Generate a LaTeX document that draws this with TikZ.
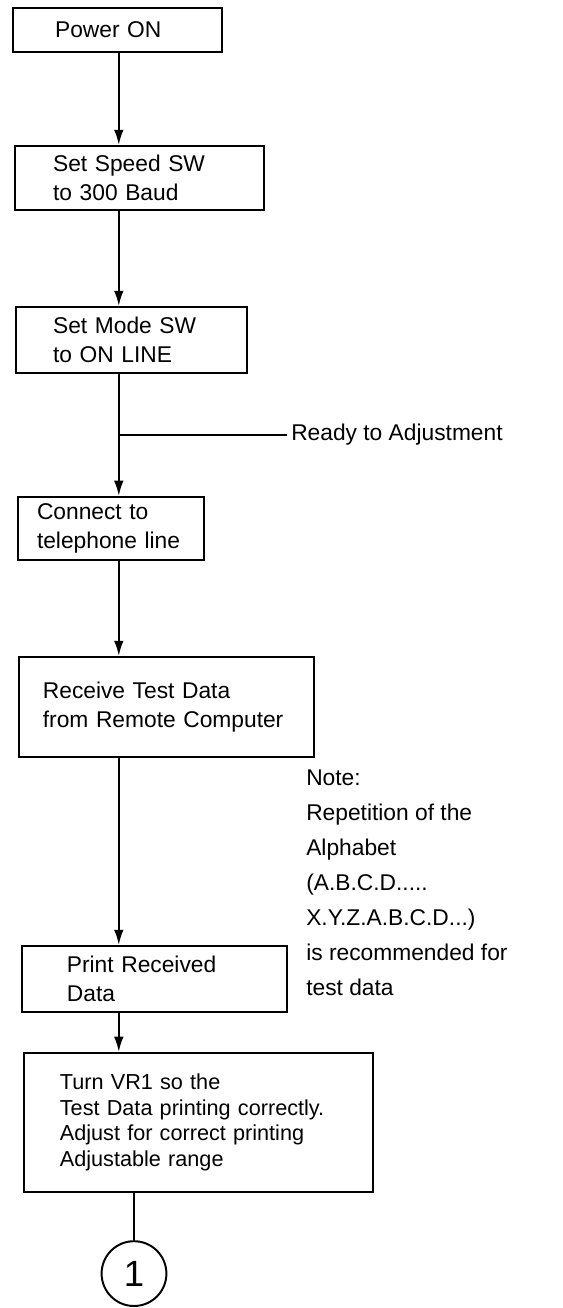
\documentclass[tikz,border=0pt]{standalone}
\usepackage{fontspec}
\setmainfont{Liberation Sans}
\usetikzlibrary{arrows.meta,positioning,calc}
\tikzset{
  stepbox/.style={draw, line width=1.4pt, align=left, inner ysep=0pt, font=\fontsize{16.2}{20.2}\selectfont},
  flow/.style={-{Latex[length=0.38cm,width=0.24cm]}, line width=1.4pt},
  link/.style={line width=1.4pt},
  lbl/.style={inner sep=0pt, font=\fontsize{16.2}{20.2}\selectfont},
  notetxt/.style={align=left, inner sep=0pt, font=\fontsize{16.2}{24.9}\selectfont},
}

\begin{document}
\begin{tikzpicture}
  \useasboundingbox (0,0) rectangle (14.05,32.7);
  %--- Adjustment flow ---
  \coordinate (spine) at (2.97,0);

  % Power node
  \node[stepbox, text width=3.125cm, inner xsep=1.05cm, minimum height=1.1cm] (power) at (2.94,31.95) {Power ON};

  % Speed switch node
  \node[stepbox, text width=4.325cm, inner xsep=0.95cm, minimum height=1.6cm] (speed) at (3.49,28.25) {Set Speed SW\\to 300 Baud};

  % Mode switch node
  \node[stepbox, text width=3.925cm, inner xsep=0.925cm, minimum height=1.65cm] (mode) at (3.29,24.2) {Set Mode SW\\to ON LINE};

  % Line node
  \node[stepbox, text width=3.7cm, inner xsep=0.475cm, minimum height=1.575cm] (connect) at (2.775,19.49) {Connect to\\telephone line};

  % Receive node
  \node[stepbox, text width=6.175cm, inner xsep=0.6cm, minimum height=2.5cm] (receive) at (4.16,15.025) {Receive Test Data\\from Remote Computer};

  % Print node
  \node[stepbox, text width=4.375cm, inner xsep=1.125cm, minimum height=1.65cm] (print) at (3.86,8.225) {Print Received\\Data};

  % VR1 node
  \node[stepbox, text width=6.925cm, inner xsep=0.9cm, minimum height=3.475cm, font=\fontsize{15.4}{18.3}\selectfont] (turn) at (4.96,4.64) {Turn VR1 so the\\Test Data printing correctly.\\Adjust for correct printing\\Adjustable range};

  % Connector circle
  \node[draw, circle, line width=1.4pt, minimum size=1.62cm, inner sep=0pt, font=\fontsize{26}{30}\selectfont] (one) at (3.35,0.86) {1};

  % Side texts
  \node[lbl, anchor=west, inner xsep=0.1cm] (ready) at (7.175,21.825) {Ready to Adjustment};
  \node[notetxt, anchor=west] (note) at (7.65,10.64) {Note:\\Repetition of the\\Alphabet\\(A.B.C.D.....\\X.Y.Z.A.B.C.D...)\\is recommended for\\test data};

  % Arrows
  \draw[flow] (power.south -| spine) -- (speed.north -| spine);
  \draw[flow] (speed.south -| spine) -- (mode.north -| spine);
  \draw[flow] (mode.south -| spine) -- (connect.north -| spine);
  \draw[link] (ready.west -| spine) -- (ready.west);
  \draw[flow] (connect.south -| spine) -- (receive.north -| spine);
  \draw[flow] (receive.south -| spine) -- (print.north -| spine);
  \draw[flow] (print.south -| spine) -- (turn.north -| spine);
  \draw[link] (turn.south -| one) -- (one.north);
\end{tikzpicture}
\end{document}
